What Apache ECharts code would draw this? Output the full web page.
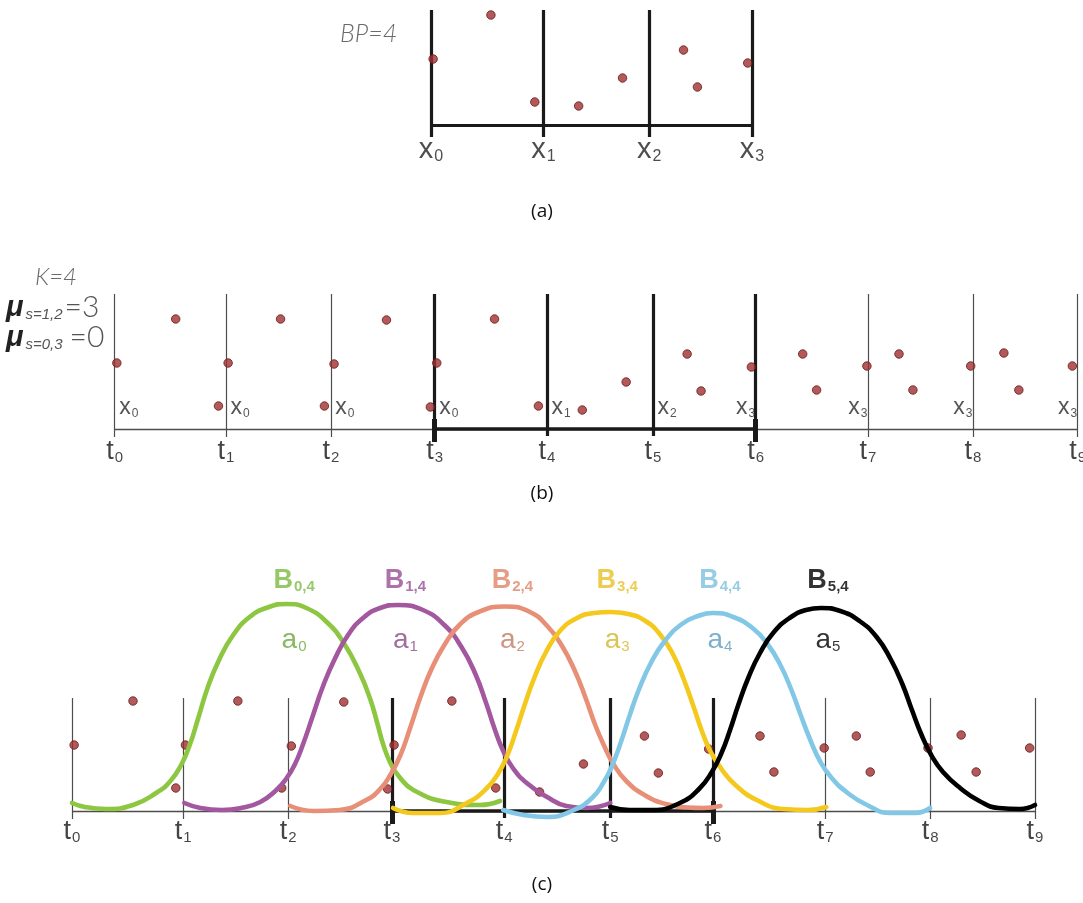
<!DOCTYPE html>
<html>
<head>
<meta charset="utf-8">
<script src="https://cdn.jsdelivr.net/npm/echarts@6/dist/echarts.min.js"></script>
<style>
  html, body { margin: 0; padding: 0; background: #fff; }
  #chart { width: 1083px; height: 903px; }
</style>
</head>
<body>
<div id="chart"></div>
<script>
// Knot vector t0..t9 along the parameter axis
const knots = [0, 1.04, 2.02, 2.99, 4.04, 5.03, 5.99, 7.04, 8.02, 9.0];
const knotNames = ['0', '1', '2', '3', '4', '5', '6', '7', '8', '9'];
// Breakpoint index written next to each knot in panel (b)
const knotBreakpoint = ['0', '0', '0', '0', '1', '2', '3', '3', '3', '3'];
// Breakpoint names x0..x3 of panel (a)
const breakpointNames = ['0', '1', '2', '3'];

// Sampled data points
const sampleX = [0.02, 0.57, 0.97, 1.06, 1.55, 1.96, 2.05, 2.54, 2.95, 3.01, 3.55, 3.96, 4.37,
                 4.78, 5.35, 5.48, 5.95, 6.43, 6.56, 7.03, 7.33, 7.46, 8.00, 8.31, 8.45, 8.95];
const sampleY = [6.6, 11.0, 2.3, 6.6, 11.0, 2.3, 6.5, 10.9, 2.2, 6.6, 11.0, 2.3, 1.9,
                 4.7, 7.5, 3.8, 6.2, 7.5, 3.9, 6.3, 7.5, 3.9, 6.3, 7.6, 3.9, 6.3];

// Cubic B-spline basis functions B_{i,4}
const basis0 = [[0, 0.8], [0.12, 0.4], [0.32, 0.2], [0.57, 0.6], [0.80, 1.9], [0.92, 3.0], [1.02, 4.6],
  [1.10, 6.6], [1.18, 9.3], [1.27, 12.4], [1.37, 15.0], [1.50, 17.5], [1.66, 19.4], [1.84, 20.4],
  [2.01, 20.7], [2.19, 20.3], [2.38, 18.9], [2.54, 16.8], [2.69, 13.8], [2.79, 11.1], [2.85, 8.9],
  [2.91, 6.6], [2.98, 4.7], [3.06, 3.4], [3.19, 2.1], [3.50, 0.9], [3.81, 0.6], [4.00, 1.0]];
const basis1 = [[1.05, 0.8], [1.20, 0.3], [1.40, 0.1], [1.60, 0.35], [1.76, 0.9], [1.90, 2.0], [2.00, 3.2],
  [2.08, 4.6], [2.16, 6.7], [2.25, 9.5], [2.35, 12.6], [2.46, 15.3], [2.58, 17.6], [2.72, 19.3],
  [2.88, 20.3], [3.05, 20.6], [3.28, 20.1], [3.48, 18.6], [3.64, 16.4], [3.77, 13.7], [3.87, 10.8],
  [3.95, 8.2], [4.03, 6.0], [4.12, 4.3], [4.25, 2.8], [4.44, 1.4], [4.62, 0.5], [4.81, 0.3], [5.03, 0.8]];
const basis2 = [[2.04, 0.5], [2.26, 0.0], [2.50, 0.1], [2.75, 1.1], [2.88, 2.2], [2.98, 3.7], [3.07, 5.6],
  [3.16, 8.3], [3.26, 11.5], [3.36, 14.2], [3.48, 16.6], [3.62, 18.6], [3.80, 19.9], [4.05, 20.45],
  [4.28, 19.9], [4.45, 18.4], [4.58, 16.5], [4.70, 14.0], [4.80, 11.3], [4.89, 8.6], [4.97, 6.6],
  [5.06, 4.7], [5.18, 3.0], [5.35, 1.6], [5.55, 0.7], [5.75, 0.35], [5.90, 0.3], [6.06, 0.5]];
const basis3 = [[3.00, 0.3], [3.19, -0.2], [3.44, -0.2], [3.69, 0.8], [3.86, 2.1], [3.98, 3.7], [4.07, 5.6],
  [4.15, 8.0], [4.23, 10.6], [4.32, 13.3], [4.43, 15.9], [4.56, 18.0], [4.72, 19.3], [4.88, 19.8],
  [5.03, 19.9], [5.20, 19.7], [5.36, 19.0], [5.50, 17.6], [5.62, 15.6], [5.72, 13.1], [5.81, 10.4],
  [5.89, 7.9], [5.97, 5.9], [6.07, 4.2], [6.20, 2.6], [6.40, 1.1], [6.65, 0.2], [6.88, 0.1], [7.05, 0.4]];
const basis4 = [[4.03, 0.1], [4.22, -0.4], [4.44, -0.6], [4.69, 0.1], [4.86, 1.3], [4.97, 2.9], [5.05, 4.6],
  [5.13, 6.9], [5.21, 9.5], [5.30, 12.2], [5.41, 14.8], [5.54, 17.0], [5.70, 18.7], [5.85, 19.5],
  [5.99, 19.8], [6.18, 19.4], [6.36, 18.3], [6.50, 16.7], [6.62, 14.6], [6.72, 12.2], [6.81, 9.6],
  [6.90, 7.1], [6.99, 5.0], [7.10, 3.3], [7.25, 1.8], [7.43, 0.6], [7.65, -0.2], [7.88, -0.2], [8.02, 0.3]];
const basis5 = [[5.03, 0.4], [5.21, 0.1], [5.43, 0.1], [5.68, 0.8], [5.86, 2.2], [5.98, 3.9], [6.07, 5.8],
  [6.15, 8.1], [6.23, 10.7], [6.32, 13.3], [6.43, 15.8], [6.56, 17.9], [6.72, 19.4], [6.86, 20.1],
  [7.00, 20.3], [7.18, 20.0], [7.36, 19.0], [7.52, 17.4], [7.65, 15.2], [7.76, 12.7], [7.85, 10.1],
  [7.94, 7.6], [8.03, 5.6], [8.14, 3.9], [8.30, 2.3], [8.48, 1.0], [8.66, 0.3], [8.86, 0.2], [9.00, 0.6]];
const basisIndex = ['0', '1', '2', '3', '4', '5'];

// ---------------------------------------------------------------------------
const basisCurves = [basis0, basis1, basis2, basis3, basis4, basis5];
const curveColors = ['#8dc641', '#a3579f', '#e88f78', '#f4c81c', '#82c8e6', '#000000'];
const bLabelColors = ['#7cba42', '#9a4f95', '#de8567', '#e8c025', '#7cbfdd', '#000000'];
const aLabelColors = ['#6aa83a', '#8a4a86', '#c27a60', '#d2b52a', '#5d9cbc', '#000000'];

const ACTIVE_FIRST = 3, ACTIVE_LAST = 6;   // span of the real breakpoints t3..t6
const DARK = '#1a1a1a', THIN = '#4d4d4d';
const FONT = "'Liberation Sans', Arial, sans-serif";
const FONT_N = "'Liberation Sans Narrow', 'Liberation Sans', Arial, sans-serif";
const DOT = { color: '#a03030', borderColor: '#661a1a', borderWidth: 1 };

const samples = sampleX.map((x, i) => [x, sampleY[i]]);
const breakpoints = knots.slice(ACTIVE_FIRST, ACTIVE_LAST + 1).map(k => +(k - knots[ACTIVE_FIRST]).toFixed(3));
const samplesA = samples
  .filter(p => p[0] >= knots[ACTIVE_FIRST] && p[0] <= knots[ACTIVE_LAST])
  .map(p => [p[0] - knots[ACTIVE_FIRST], p[1]]);

function subRich(mainSize, subSize, color, weight, family, mainStyle) {
  return {
    m: { fontSize: mainSize, fontFamily: family, fontWeight: weight, fontStyle: mainStyle || 'normal',
         color: color, lineHeight: mainSize, verticalAlign: 'bottom' },
    s: { fontSize: subSize, fontFamily: family, fontWeight: weight, color: color,
         lineHeight: subSize, verticalAlign: 'bottom', padding: [0, 0, 0, 1] }
  };
}

function seg(x0, y0, x1, y1, width, color) {
  return { coords: [[x0, y0], [x1, y1]], lineStyle: { width: width, color: color, opacity: 1 } };
}

// guide lines of the knot panels (b) and (c)
function knotGuides(top) {
  const out = [];
  out.push(seg(knots[0], 0, knots[knots.length - 1], 0, 1.4, THIN));
  out.push(seg(knots[ACTIVE_FIRST], 0, knots[ACTIVE_LAST], 0, 3.6, DARK));
  knots.forEach((k, i) => {
    if (i >= ACTIVE_FIRST && i <= ACTIVE_LAST) {
      out.push(seg(k, -0.7, k, top, 3.2, DARK));
      if (i === ACTIVE_FIRST || i === ACTIVE_LAST) out.push(seg(k, -1.3, k, 1.0, 5, DARK));
    } else {
      out.push(seg(k, -0.8, k, top, 1.2, THIN));
    }
  });
  return out;
}

function guideSeries(idx, data) {
  return { type: 'lines', coordinateSystem: 'cartesian2d', xAxisIndex: idx, yAxisIndex: idx,
           polyline: false, silent: true, z: 1, data: data, lineStyle: { opacity: 1 } };
}
function dotSeries(idx, data) {
  return { type: 'scatter', xAxisIndex: idx, yAxisIndex: idx, data: data, symbolSize: 8.5,
           itemStyle: DOT, silent: true, z: 2, clip: false };
}
function labelSeries(idx, data, rich, extra) {
  return Object.assign({
    type: 'scatter', xAxisIndex: idx, yAxisIndex: idx, symbolSize: 1, silent: true, z: 5, clip: false,
    itemStyle: { color: 'rgba(0,0,0,0)' },
    label: { show: true, position: 'inside', rich: rich, formatter: p => p.data.text },
    data: data
  }, extra || {});
}

const series = [];

// ---- panel (a): breakpoints x0..x3 ----
const guidesA = [seg(breakpoints[0], 0, breakpoints[breakpoints.length - 1], 0, 3.2, DARK)];
breakpoints.forEach(b => guidesA.push(seg(b, -1.2, b, 11.5, 3.2, DARK)));
series.push(guideSeries(0, guidesA));
series.push(dotSeries(0, samplesA));
series.push(labelSeries(0, breakpoints.map((b, i) => ({
  value: [b, -2.5], text: '{m|x}{s|' + breakpointNames[i] + '}' })), subRich(29, 16, '#222', 'normal', FONT)));

// ---- panel (b): knots t0..t9 ----
series.push(guideSeries(1, knotGuides(13.5)));
series.push(dotSeries(1, samples));
series.push(labelSeries(1, knots.map((k, i) => ({
  value: [k, -2.3], text: '{m|t}{s|' + knotNames[i] + '}' })), subRich(27, 15, '#151515', 'normal', FONT_N)));
series.push(labelSeries(1, knots.map((k, i) => ({
  value: [k, 2.1], text: '{m|x}{s|' + knotBreakpoint[i] + '}',
  label: i < ACTIVE_LAST ? { position: 'right', distance: 4 } : { position: 'left', distance: 0 }
})), subRich(23, 12, '#2a2a2a', 'normal', FONT)));

// ---- panel (c): basis functions over the knots ----
series.push(guideSeries(2, knotGuides(11.3)));
series.push(dotSeries(2, samples));
basisCurves.forEach((c, i) => {
  series.push({
    type: 'line', xAxisIndex: 2, yAxisIndex: 2, data: c, smooth: 0.5, showSymbol: false,
    silent: true, clip: false, z: 3 + i * 0.01,
    lineStyle: { color: curveColors[i], width: 4.6, cap: 'round', join: 'round' }
  });
});
series.push(labelSeries(2, knots.map((k, i) => ({
  value: [k, -2.1], text: '{m|t}{s|' + knotNames[i] + '}' })), subRich(27, 15, '#151515', 'normal', FONT_N)));
const peaks = basisCurves.map(c => c.reduce((a, b) => (b[1] > a[1] ? b : a)));
series.push(labelSeries(2, peaks.map((p, i) => ({
  value: [p[0], 23.0], text: '{m|B}{s|' + basisIndex[i] + ',4}',
  label: { rich: subRich(27, 15, bLabelColors[i], 'bold', FONT), offset: [7, 0] }
})), {}));
series.push(labelSeries(2, peaks.map((p, i) => ({
  value: [p[0], 17.1], text: '{m|a}{s|' + basisIndex[i] + '}',
  label: { rich: subRich(28, 15, aLabelColors[i], 'normal', FONT), offset: [7, 0] }
})), {}));

// ---- annotations ----
const graphic = [
  { type: 'text', x: 340, y: 34, style: { text: 'BP=4', fill: '#6a6a6a', align: 'left', verticalAlign: 'middle',
      font: "italic 300 25px Lato, 'Open Sans', sans-serif" } },
  { type: 'text', x: 35, y: 277, style: { text: 'K=4', fill: '#6a6a6a', align: 'left', verticalAlign: 'middle',
      font: "italic 300 24px Lato, 'Open Sans', sans-serif" } },
  { type: 'text', x: 6, y: 308, style: { text: '{mu|μ}{s|s=1,2}{e|=3}', align: 'left', verticalAlign: 'middle',
      rich: {
        mu: { fontSize: 29, fontStyle: 'italic', fontWeight: 'bold', fontFamily: FONT, fill: '#222', lineHeight: 28, verticalAlign: 'bottom' },
        s: { fontSize: 15, fontStyle: 'italic', fontFamily: FONT, fill: '#555', lineHeight: 15, verticalAlign: 'bottom', padding: [0, 2, 0, 2] },
        e: { fontSize: 30, fontWeight: 300, fontFamily: 'Lato, sans-serif', fill: '#555', lineHeight: 28, verticalAlign: 'bottom' }
      } } },
  { type: 'text', x: 6, y: 338, style: { text: '{mu|μ}{s|s=0,3}{e|=0}', align: 'left', verticalAlign: 'middle',
      rich: {
        mu: { fontSize: 29, fontStyle: 'italic', fontWeight: 'bold', fontFamily: FONT, fill: '#222', lineHeight: 28, verticalAlign: 'bottom' },
        s: { fontSize: 15, fontStyle: 'italic', fontFamily: FONT, fill: '#555', lineHeight: 15, verticalAlign: 'bottom', padding: [0, 7, 0, 2] },
        e: { fontSize: 30, fontWeight: 300, fontFamily: 'Lato, sans-serif', fill: '#555', lineHeight: 28, verticalAlign: 'bottom' }
      } } },
  { type: 'text', x: 542, y: 212, style: { text: '(a)', fill: '#111', align: 'center', verticalAlign: 'middle', font: "19px 'Open Sans', sans-serif" } },
  { type: 'text', x: 542, y: 494, style: { text: '(b)', fill: '#111', align: 'center', verticalAlign: 'middle', font: "19px 'Open Sans', sans-serif" } },
  { type: 'text', x: 542, y: 885, style: { text: '(c)', fill: '#111', align: 'center', verticalAlign: 'middle', font: "19px 'Open Sans', sans-serif" } }
];

const UX = 107, UY = 10;   // pixels per unit on every panel
function panel(originX, originY, xMin, xMax, yMin, yMax) {
  return { left: originX + xMin * UX, top: originY - yMax * UY,
           width: (xMax - xMin) * UX, height: (yMax - yMin) * UY, xMin, xMax, yMin, yMax };
}
// each plotting area stays inside the 1083px canvas
const panels = [panel(431, 125, -1.5, 4, -4, 12), panel(114.7, 429, -1, 9.04, -4, 14), panel(72, 811, -0.6, 9.4, -4, 24)];

const option = {
  animation: false,
  backgroundColor: '#ffffff',
  grid: panels.map(p => ({ left: p.left, top: p.top, width: p.width, height: p.height, containLabel: false })),
  xAxis: panels.map((p, i) => ({ gridIndex: i, type: 'value', min: p.xMin, max: p.xMax, show: false })),
  yAxis: panels.map((p, i) => ({ gridIndex: i, type: 'value', min: p.yMin, max: p.yMax, show: false })),
  graphic: graphic,
  series: series
};

const chart = echarts.init(document.getElementById('chart'), null, { renderer: 'canvas' });
chart.setOption(option);
</script>
</body>
</html>
